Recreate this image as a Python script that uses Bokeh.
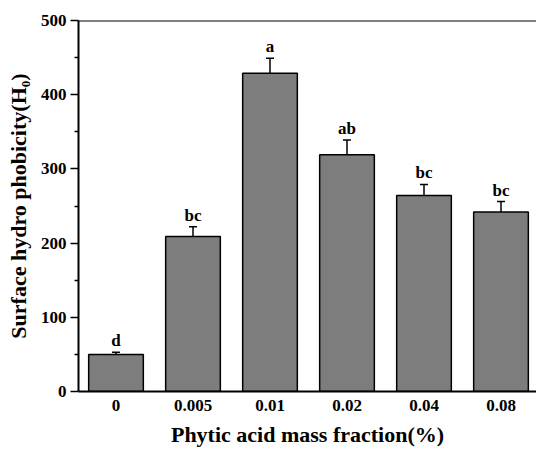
from bokeh.plotting import figure
from bokeh.models import (ColumnDataSource, Range1d, FixedTicker, Whisker, TeeHead, Span)
from bokeh.core.properties import value
from bokeh.embed import file_html
from bokeh.resources import INLINE

categories = ["0", "0.005", "0.01", "0.02", "0.04", "0.08"]
values = [50, 209, 429, 319, 264, 242]
errors = [3, 13, 20, 20, 15, 14]
letters = ["d", "bc", "a", "ab", "bc", "bc"]
y_ticks = [0, 100, 200, 300, 400, 500]
y_minor = [50, 150, 250, 350, 450]

xs = list(range(1, len(categories) + 1))
src = ColumnDataSource(dict(
    x=xs,
    values=values,
    upper=[v + e for v, e in zip(values, errors)],
    letters=letters,
))

FONT = "Liberation Serif"

p = figure(width=536, height=449, output_backend="svg", toolbar_location=None,
           x_range=Range1d(0.513, 6.461), y_range=Range1d(0, 500),
           min_border_left=78, min_border_top=20, min_border_right=0,
           min_border_bottom=58)
p.outline_line_color = None
p.xgrid.visible = False
p.ygrid.visible = False
p.background_fill_color = "white"
p.border_fill_color = "white"

p.vbar(x="x", top="values", bottom=0, width=0.71, source=src,
       fill_color="#7d7d7d", line_color="black", line_width=1.5)

wh = Whisker(source=src, base="x", lower="values", upper="upper",
             line_color="black", line_width=1.5,
             upper_head=TeeHead(size=8, line_color="black", line_width=1.5),
             lower_head=None)
p.add_layout(wh)

p.text(x="x", y="upper", text="letters", source=src,
       text_font=value(FONT), text_font_style="bold", text_font_size="17px",
       text_align="center", text_baseline="bottom", y_offset=-2,
       text_color="black")

p.add_layout(Span(location=500, dimension="width", line_color="black", line_width=2))

# x axis
xa = p.xaxis[0]
xa.ticker = FixedTicker(ticks=xs)
xa.major_label_overrides = {x: c for x, c in zip(xs, categories)}
xa.major_tick_line_color = None
xa.minor_tick_line_color = None
xa.major_label_standoff = 2
xa.axis_line_width = 2
xa.axis_line_color = "black"
xa.axis_label = "Phytic acid mass fraction(%)"
xa.axis_label_text_font = FONT
xa.axis_label_text_font_style = "bold"
xa.axis_label_text_font_size = "22px"
xa.axis_label_text_color = "black"
xa.axis_label_standoff = 8
xa.major_label_text_font = FONT
xa.major_label_text_font_style = "bold"
xa.major_label_text_font_size = "17px"
xa.major_label_text_color = "black"

# y axis
ya = p.yaxis[0]
ya.ticker = FixedTicker(ticks=y_ticks, minor_ticks=y_minor)
ya.major_tick_out = 8
ya.major_tick_in = 0
ya.minor_tick_out = 4
ya.minor_tick_in = 0
ya.major_tick_line_width = 1.5
ya.minor_tick_line_width = 1.5
ya.major_tick_line_color = "black"
ya.minor_tick_line_color = "black"
ya.axis_line_width = 2
ya.axis_line_color = "black"
ya.major_label_standoff = 4
ya.axis_label = "Surface hydro phobicity(H\u2080)"
ya.axis_label_text_font = FONT
ya.axis_label_text_font_style = "bold"
ya.axis_label_text_font_size = "22px"
ya.axis_label_text_color = "black"
ya.axis_label_standoff = 7
ya.major_label_text_font = FONT
ya.major_label_text_font_style = "bold"
ya.major_label_text_font_size = "17px"
ya.major_label_text_color = "black"

open("out.html", "w").write(file_html(p, INLINE))
